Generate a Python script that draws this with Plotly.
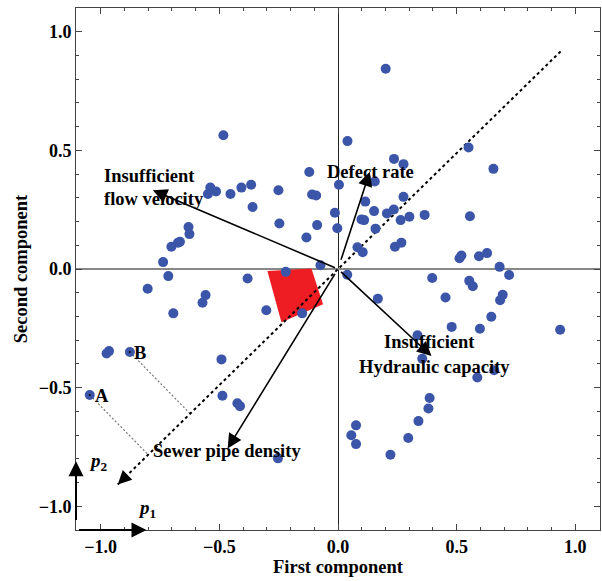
import plotly.graph_objects as go
import numpy as np

# ---- data ----
pc1 = [-0.483, -0.538, -0.548, -0.514, -0.453, -0.407, -0.366, -0.360, -0.630, -0.626,
       -0.666, -0.674, -0.702, -0.737, -0.251, -0.121, -0.109, -0.092, -0.247, -0.088,
       -0.133, -0.074, -0.013, -0.003, 0.040, 0.201, 0.236, 0.276, 0.155, 0.004,
       0.276, 0.115, 0.152, 0.206, 0.235, 0.099, 0.110, 0.264, 0.301, 0.365,
       0.158, 0.082, 0.104, 0.240, 0.267, 0.550, 0.655, 0.556, 0.520, 0.512,
       0.594, 0.628, 0.681, 0.721, 0.397, 0.553, 0.568, 0.453, 0.694, 0.683,
       0.646, 0.479, 0.598, 0.936, 0.335, 0.355, 0.658, 0.587, 0.386, 0.381,
       0.339, 0.296, 0.076, 0.056, 0.076, 0.221, 0.039, 0.168, -0.220, -0.381,
       -0.715, -0.802, -0.558, -0.571, -0.694, -0.302, -0.151, -0.965, -0.975, -0.877,
       -0.491, -1.046, -0.487, -0.424, -0.413, -0.253]
pc2 = [0.564, 0.343, 0.316, 0.327, 0.316, 0.343, 0.355, 0.261, 0.177, 0.147,
       0.115, 0.111, 0.094, 0.029, 0.332, 0.409, 0.314, 0.310, 0.192, 0.185,
       0.133, 0.016, 0.237, 0.172, 0.539, 0.844, 0.464, 0.442, 0.369, 0.355,
       0.304, 0.284, 0.244, 0.234, 0.251, 0.209, 0.206, 0.206, 0.220, 0.228,
       0.170, 0.092, 0.071, 0.094, 0.111, 0.512, 0.422, 0.222, 0.057, 0.045,
       0.054, 0.067, 0.009, -0.025, -0.038, -0.050, -0.073, -0.120, -0.109, -0.132,
       -0.201, -0.244, -0.252, -0.256, -0.279, -0.378, -0.427, -0.457, -0.544, -0.588,
       -0.641, -0.712, -0.659, -0.701, -0.738, -0.783, -0.024, -0.125, -0.012, -0.040,
       -0.030, -0.083, -0.110, -0.142, -0.187, -0.174, -0.187, -0.346, -0.356, -0.350,
       -0.381, -0.531, -0.534, -0.566, -0.578, -0.798]

# loading vectors (arrow tips)
var_names = ["Insufficient<br>flow velocity", "Defect rate",
             "Insufficient<br>Hydraulic capacity", "Sewer pipe density"]
var_x = [-0.780, 0.134, 0.394, -0.465]
var_y = [0.332, 0.410, -0.367, -0.756]

# labelled samples
lab_names = ["A", "B"]
lab_x = [-1.046, -0.877]
lab_y = [-0.531, -0.350]

# projection axis (dotted line) end points
axis_x = [0.938, -0.928]
axis_y = [0.917, -0.908]

# red region polygon
red_x = [-0.2975, -0.112, -0.063, -0.2385]
red_y = [-0.0088, 0.0025, -0.149, -0.224]

FONT = "Liberation Serif"
BLUE = "#3B55A8"

fig = go.Figure()

# red region
fig.add_trace(go.Scatter(x=red_x + [red_x[0]], y=red_y + [red_y[0]], mode="lines",
                         fill="toself", fillcolor="#EE1D23", line=dict(width=0),
                         hoverinfo="skip", showlegend=False))

# perpendicular dotted lines from A and B to projection axis
d = np.array([axis_x[0] - axis_x[1], axis_y[0] - axis_y[1]])
d = d / np.linalg.norm(d)
p0 = np.array([axis_x[1], axis_y[1]])
for px, py in zip(lab_x, lab_y):
    v = np.array([px, py]) - p0
    proj = p0 + d * np.dot(v, d)
    fig.add_trace(go.Scatter(x=[px, proj[0]], y=[py, proj[1]], mode="lines",
                             line=dict(color="#777777", width=1.2, dash="2px,2px"),
                             hoverinfo="skip", showlegend=False))

# projection axis dotted line
fig.add_trace(go.Scatter(x=axis_x, y=axis_y, mode="lines",
                         line=dict(color="black", width=2, dash="3px,3px"),
                         hoverinfo="skip", showlegend=False))

# samples
fig.add_trace(go.Scatter(x=pc1, y=pc2, mode="markers",
                         marker=dict(color=BLUE, size=10, line=dict(width=0)),
                         showlegend=False))
fig.add_trace(go.Scatter(x=lab_x, y=lab_y, mode="markers",
                         marker=dict(color="black", size=2),
                         hoverinfo="skip", showlegend=False))

ann = []
# loading arrows
for vx, vy in zip(var_x, var_y):
    ann.append(dict(x=vx, y=vy, ax=0, ay=0, xref="x", yref="y", axref="x", ayref="y",
                    text=" ", showarrow=True, arrowhead=2, arrowsize=1.8, arrowwidth=1.6,
                    arrowcolor="black", standoff=0, startstandoff=0))
# arrowhead on projection axis
ann.append(dict(x=axis_x[1], y=axis_y[1], ax=axis_x[1] + 0.06 * d[0], ay=axis_y[1] + 0.06 * d[1],
                xref="x", yref="y", axref="x", ayref="y", text=" ", showarrow=True,
                arrowhead=2, arrowsize=1.7, arrowwidth=1.6, arrowcolor="black"))
# p1 / p2 arrows
ann.append(dict(x=-0.807, y=-1.1, ax=-1.104, ay=-1.1, xref="x", yref="y", axref="x", ayref="y",
                text=" ", showarrow=True, arrowhead=2, arrowsize=1.5, arrowwidth=2,
                arrowcolor="black"))
ann.append(dict(x=-1.104, y=-0.81, ax=-1.104, ay=-1.1, xref="x", yref="y", axref="x", ayref="y",
                text=" ", showarrow=True, arrowhead=2, arrowsize=1.5, arrowwidth=2,
                arrowcolor="black"))

lab_font = dict(family=FONT, size=18.5, color="black")
texts = [("<b>Insufficient</b>", -0.794, 0.394), ("<b>flow velocity</b>", -0.775, 0.293),
         ("<b>Defect rate</b>", 0.138, 0.408),
         ("<b>Insufficient</b>", 0.384, -0.308), ("<b>Hydraulic capacity</b>", 0.406, -0.412),
         ("<b>Sewer pipe density</b>", -0.467, -0.767),
         ("<b>A</b>", -0.996, -0.536), ("<b>B</b>", -0.835, -0.353)]
for t, tx, ty in texts:
    ann.append(dict(x=tx, y=ty, xref="x", yref="y", text=t, showarrow=False, font=lab_font))
ann.append(dict(x=-1.009, y=-0.815, xref="x", yref="y", text="<b><i>p</i><sub>2</sub></b>",
                showarrow=False, font=dict(family=FONT, size=19, color="black")))
ann.append(dict(x=-0.806, y=-1.013, xref="x", yref="y", text="<b><i>p</i><sub>1</sub></b>",
                showarrow=False, font=dict(family=FONT, size=19, color="black")))

axis_common = dict(
    showgrid=False, showline=True, linecolor="#444444", linewidth=1, mirror="ticks",
    ticks="inside", ticklen=6, tickcolor="#444444", tickwidth=1,
    tickmode="array", tickvals=[-1.0, -0.5, 0.0, 0.5, 1.0],
    ticktext=["\u22121.0", "\u22120.5", "0.0", "0.5", "1.0"],
    tickfont=dict(family=FONT, size=18, color="black", weight="bold"),
    minor=dict(ticks="inside", ticklen=3, tickcolor="#444444", dtick=0.1, tick0=0, showgrid=False),
    zeroline=True,
)

fig.update_layout(
    width=602, height=581,
    margin=dict(l=76, r=2, t=8, b=51),
    plot_bgcolor="white", paper_bgcolor="white",
    xaxis=dict(axis_common, range=[-1.104, 1.104], zerolinecolor="#222222", zerolinewidth=1,
               title=dict(text="<b>First component</b>", font=dict(family=FONT, size=18.5, color="black"),
                          standoff=4)),
    yaxis=dict(axis_common, range=[-1.1, 1.1], zerolinecolor="#888888", zerolinewidth=1.5,
               title=dict(text="<b>Second component</b>", font=dict(family=FONT, size=18.5, color="black"),
                          standoff=6)),
    annotations=ann,
)

fig.write_html("out.html")
